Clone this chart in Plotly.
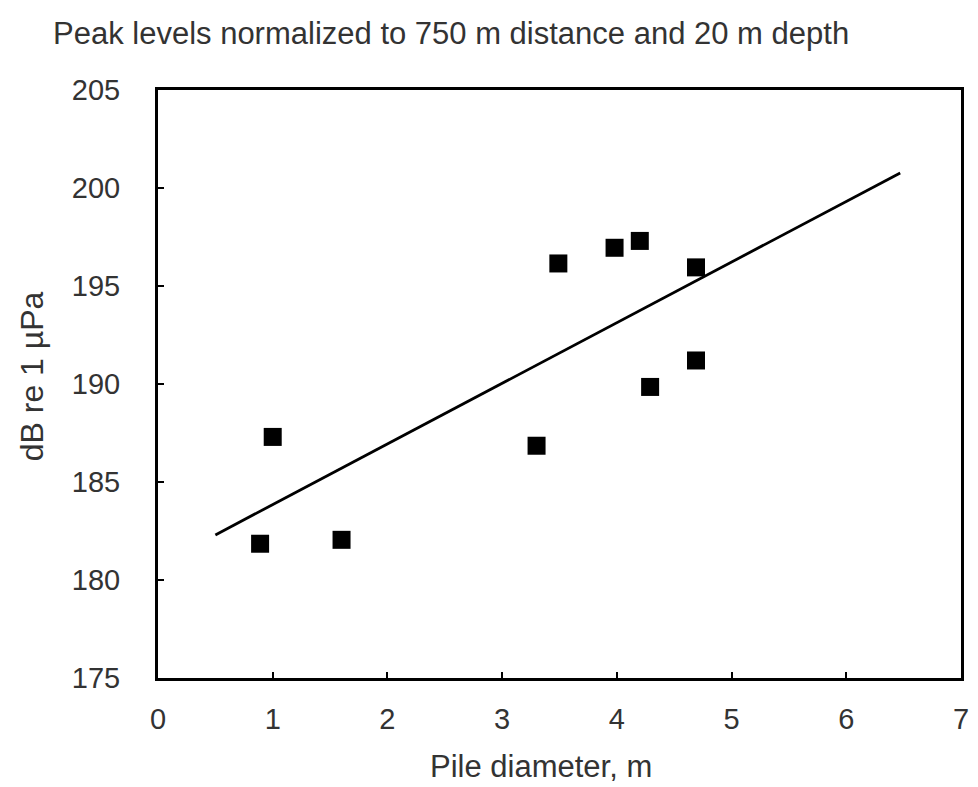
import plotly.graph_objects as go

# Data
pile_diameter = [0.89, 1.0, 1.6, 3.3, 3.49, 3.98, 4.2, 4.29, 4.69, 4.69]
peak_level = [181.85, 187.3, 182.05, 186.85, 196.15, 196.95, 197.3, 189.85, 195.95, 191.2]
fit_x = [0.5, 6.47]
fit_y = [182.3, 200.77]

x_ticks = [0, 1, 2, 3, 4, 5, 6, 7]
y_ticks = [175, 180, 185, 190, 195, 200, 205]

font_family = "Liberation Sans, Arial, sans-serif"
text_color = "#333333"

fig = go.Figure()
fig.add_trace(go.Scatter(x=fit_x, y=fit_y, mode="lines",
                         line=dict(color="black", width=2.8), showlegend=False))
fig.add_trace(go.Scatter(x=pile_diameter, y=peak_level, mode="markers",
                         marker=dict(symbol="square", size=18, color="black"),
                         showlegend=False))

fig.update_layout(
    width=978, height=787,
    margin=dict(l=158, r=9, t=90, b=109),
    paper_bgcolor="white", plot_bgcolor="white",
    title=dict(text="Peak levels normalized to 750 m distance and 20 m depth",
               x=53/978, xanchor="left", y=1-33/787, yanchor="middle",
               font=dict(family=font_family, size=31, color=text_color)),
    font=dict(family=font_family, color=text_color),
    annotations=[
        dict(text="Pile diameter, m", xref="paper", yref="paper",
             x=(545-158)/(969-158), y=-(766-678)/(678-90),
             xanchor="center", yanchor="middle", showarrow=False,
             font=dict(size=31, color=text_color)),
        dict(text="dB re 1 µPa", xref="paper", yref="paper",
             x=-(158-31)/(969-158), y=(678-376)/(678-90),
             xanchor="center", yanchor="middle", showarrow=False, textangle=-90,
             font=dict(size=32, color=text_color)),
    ],
)
fig.update_xaxes(
    range=[0, 7], tickvals=x_ticks, ticktext=[str(v) for v in x_ticks],
    showgrid=False, zeroline=False,
    showline=True, linecolor="black", linewidth=3, mirror=True,
    ticks="inside", ticklen=6, tickwidth=1.5, tickcolor="black",
    tickfont=dict(size=29, color=text_color), ticklabelstandoff=13,
)
fig.update_yaxes(
    range=[175, 205], tickvals=y_ticks, ticktext=[str(v) for v in y_ticks],
    showgrid=False, zeroline=False,
    showline=True, linecolor="black", linewidth=3, mirror=True,
    ticks="inside", ticklen=6, tickwidth=1.5, tickcolor="black",
    tickfont=dict(size=29, color=text_color), ticklabelstandoff=29,
)

fig.write_html("out.html")
